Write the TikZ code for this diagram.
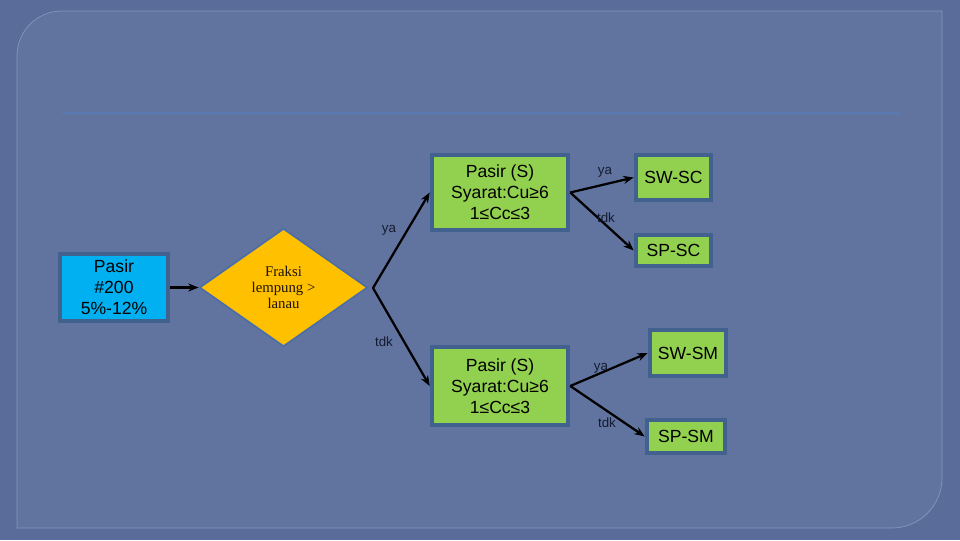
\documentclass[tikz,border=0pt]{standalone}
\usepackage{fontspec}
\setmainfont{Liberation Sans}
\newfontfamily\seriffont{Liberation Serif}
\usetikzlibrary{arrows.meta, shapes.geometric}
\definecolor{slide}{HTML}{5A6C9A}
\definecolor{panel}{HTML}{6174A0}
\definecolor{panelrim}{HTML}{8496C0}
\definecolor{rule}{HTML}{5879B2}
\definecolor{boxline}{HTML}{41618F}
\definecolor{sky}{HTML}{00B0F0}
\definecolor{leaf}{HTML}{92D050}
\definecolor{gold}{HTML}{FFC000}
\definecolor{goldline}{HTML}{4A6EA8}
\definecolor{ink}{HTML}{141B30}

\begin{document}
\begin{tikzpicture}[x=0.025cm, y=-0.025cm,
  box/.style={draw=boxline, line width=3.2pt, fill=leaf, align=center, inner sep=0pt,
              font=\fontsize{12.5}{14.9}\selectfont},
  decision/.style={diamond, draw=goldline, line width=1.2pt, fill=gold, inner sep=0pt,
                   align=center, text=black!85!brown, font=\seriffont\fontsize{10.5}{11.5}\selectfont},
  flow/.style={line width=1.6pt, -{Stealth[length=2.6mm, width=2mm]}},
  answer/.style={font=\fontsize{9.5}{11}\selectfont, text=ink, inner sep=0pt},
]

\fill[slide] (0,0) rectangle (960,540);
\path[fill=panel, draw=panelrim, line width=0.5pt]
  (62,11) -- (942,11) -- (942,478) .. controls (942,505.6) and (919.6,528) .. (892,528)
  -- (17,528) -- (17,56) .. controls (17,31) and (37,11) .. (62,11) -- cycle;
\draw[rule, line width=1pt] (62,113) -- (900,113);

\node[box, fill=sky, minimum width=2.7cm, minimum height=1.675cm] (src) at (114,287.5) {Pasir\\\#200\\5\%-12\%};
\node[decision, minimum width=4.2cm, minimum height=2.95cm] (test) at (283.5,287.5) {Fraksi\\lempung >\\lanau};
\coordinate (fork) at (373,288);

\node[box, minimum width=3.4cm, minimum height=1.875cm] (upS) at (500,192.5) {Pasir (S)\\Syarat:Cu≥6\\1≤Cc≤3};
\node[box, minimum width=1.875cm, minimum height=1.125cm] (swsc) at (673.5,177.5) {SW-SC};
\node[box, minimum width=1.875cm, minimum height=0.775cm] (spsc) at (673.5,250.5) {SP-SC};

\node[box, minimum width=3.4cm, minimum height=1.95cm] (lowS) at (500,386) {Pasir (S)\\Syarat:Cu≥6\\1≤Cc≤3};
\node[box, minimum width=1.9cm, minimum height=1.15cm] (swsm) at (688,353) {SW-SM};
\node[box, minimum width=1.95cm, minimum height=0.825cm] (spsm) at (686,436.5) {SP-SM};

\draw[flow] (src) -- (test);
\draw[flow] (fork) -- (upS.west);
\draw[flow] (fork) -- (lowS.west);
\draw[flow] (upS.east) -- (swsc.west);
\draw[flow] (upS.east) -- (spsc.west);
\draw[flow] (lowS.east) -- (swsm.west);
\draw[flow] (lowS.east) -- (spsm.west);

\node[answer] (upYa) at (389,230) {ya};
\node[answer] (lowTdk) at (384,342) {tdk};
\node[answer] (scYa) at (605,172) {ya};
\node[answer] (scTdk) at (606,218) {tdk};
\node[answer] (smYa) at (601,368) {ya};
\node[answer] (smTdk) at (607,423) {tdk};

\end{tikzpicture}
\end{document}
